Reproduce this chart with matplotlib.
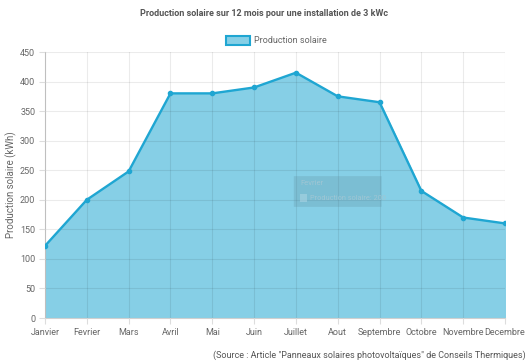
import matplotlib.pyplot as plt
from matplotlib.patches import FancyBboxPatch, Rectangle

mois = ["Janvier", "Fevrier", "Mars", "Avril", "Mai", "Juin", "Juillet",
        "Aout", "Septembre", "Octobre", "Novembre", "Decembre"]
production = [122, 200, 248, 380, 380, 390, 415, 375, 365, 215, 170, 160]
y_ticks = [0, 50, 100, 150, 200, 250, 300, 350, 400, 450]

plt.rcParams['font.family'] = ['Roboto', 'DejaVu Sans']

fill_color = "#86cfe6"
line_color = "#1fa6d2"
text_color = "#666666"

fig = plt.figure(figsize=(5.29, 3.64), dpi=100)
ax = fig.add_axes([45 / 529, 1 - 318 / 364, 460 / 529, 266 / 364])

x = list(range(len(mois)))
ax.fill_between(x, production, 0, color=fill_color, zorder=1)
ax.plot(x, production, color=line_color, lw=1.7, marker="o", ms=3, zorder=3)

ax.set_xlim(0, len(mois) - 1)
ax.set_ylim(0, 450)
ax.set_xticks(x)
ax.set_xticklabels(mois)
ax.set_yticks(y_ticks)
# grid sits over the fill so it shows through faintly
ax.grid(True, color="black", alpha=0.08, lw=0.8, zorder=2)
ax.set_axisbelow(False)
for s in ax.spines.values():
    s.set_visible(False)
ax.spines['left'].set_visible(True)
ax.spines['left'].set_color("#d0d0d0")
ax.spines['bottom'].set_visible(True)
ax.spines['bottom'].set_color("#d0d0d0")
ax.tick_params(axis='both', colors="#dddddd", labelcolor=text_color,
               labelsize=6.5, length=4, width=0.8, pad=3)
ax.set_ylabel("Production solaire (kWh)", fontsize=7, color=text_color, labelpad=2)

# faded tooltip left over on the chart
tip = FancyBboxPatch((5.95, 188), 2.1, 52, boxstyle="round,pad=0,rounding_size=0.1",
                     transform=ax.transData, facecolor="#5e8c9c", alpha=0.25,
                     edgecolor="none", zorder=4)
ax.add_patch(tip)
ax.text(6.1, 228, "Fevrier", fontsize=5.5, color="#9fc6d4", va="center", zorder=5)
ax.add_patch(Rectangle((6.1, 197), 0.17, 12, facecolor="#a9d4e3", alpha=0.6,
                       edgecolor="none", zorder=5))
ax.text(6.33, 203, "Production solaire: 200", fontsize=5.3, color="#9fc6d4",
        va="center", zorder=5)

fig.text(0.5, 1 - 13 / 364, "Production solaire sur 12 mois pour une installation de 3 kWc",
         ha="center", va="center", fontsize=6.5, fontweight="bold", color="#555555")

# legend box drawn as a small swatch and label
fig.patches.append(Rectangle((226 / 529, 1 - 45 / 364), 24 / 529, 9 / 364,
                             transform=fig.transFigure, facecolor=fill_color,
                             edgecolor=line_color, lw=1.5))
fig.text(254 / 529, 1 - 40.5 / 364, "Production solaire", ha="left", va="center",
         fontsize=6.5, color=text_color)

fig.text(526 / 529, 1 - 355 / 364,
         '(Source : Article "Panneaux solaires photovoltaïques" de Conseils Thermiques)',
         ha="right", va="center", fontsize=6.5, color="#555555")

fig.savefig("out.png", dpi=100, facecolor="white")
